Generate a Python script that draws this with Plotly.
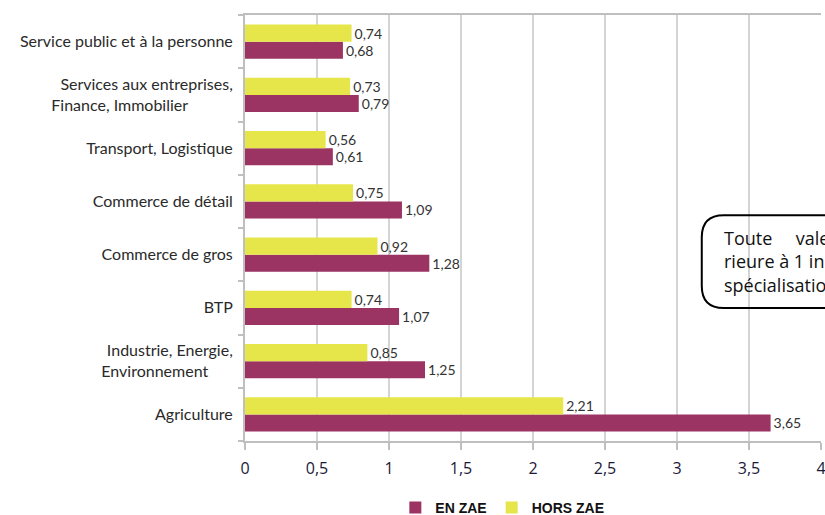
import plotly.graph_objects as go

categories = [
    "Agriculture",
    "Industrie, Energie,<br>Environnement" + "\u00a0" * 6,
    "BTP",
    "Commerce de gros",
    "Commerce de détail",
    "Transport, Logistique",
    "Services aux entreprises,<br>Finance, Immobilier" + "\u00a0" * 11,
    "Service public et à la personne",
]
en_zae = [3.65, 1.25, 1.07, 1.28, 1.09, 0.61, 0.79, 0.68]
hors_zae = [2.21, 0.85, 0.74, 0.92, 0.75, 0.56, 0.73, 0.74]
x_ticks = [0, 0.5, 1, 1.5, 2, 2.5, 3, 3.5, 4]
x_tick_labels = ["0", "0,5", "1", "1,5", "2", "2,5", "3", "3,5", "4"]

MAROON = "#9B3363"
YELLOW = "#E6E64A"

def fmt(v):
    return f"{v:.2f}".replace(".", ",")

fig = go.Figure()
fig.add_trace(go.Bar(
    y=categories, x=en_zae, orientation="h", name="EN ZAE",
    marker=dict(color=MAROON, line=dict(width=0)),
    text=[fmt(v) for v in en_zae], textposition="outside",
    textfont=dict(family="Lato", size=14, color="#333333"),
    cliponaxis=False,
))
fig.add_trace(go.Bar(
    y=categories, x=hors_zae, orientation="h", name="HORS ZAE",
    marker=dict(color=YELLOW, line=dict(width=0)),
    text=[fmt(v) for v in hors_zae], textposition="outside",
    textfont=dict(family="Lato", size=14, color="#333333"),
    cliponaxis=False,
))

fig.update_layout(
    width=825, height=515,
    margin=dict(l=245, r=4, t=15, b=74, autoexpand=False),
    paper_bgcolor="white", plot_bgcolor="white",
    barmode="group", bargap=0.36, bargroupgap=0,
    separators=", ",
    font=dict(family="Lato", color="#222222"),
    showlegend=True,
    legend=dict(
        orientation="h", x=0.261, xanchor="left", y=-0.157, yanchor="middle",
        font=dict(family="Liberation Sans", size=14, color="#111111", weight="bold"),
        traceorder="normal", itemwidth=30,
    ),
    xaxis=dict(
        range=[0, 4], tickvals=x_ticks, ticktext=x_tick_labels,
        showgrid=True, gridcolor="#D4D4D4", gridwidth=2,
        showline=True, linecolor="#BFBFBF", linewidth=2, mirror=True,
        ticks="outside", ticklen=7, tickcolor="#BFBFBF", tickwidth=2,
        ticklabelstandoff=5, ticklabeloverflow="allow", automargin=False,
        tickfont=dict(family="Open Sans", size=16, color="#1a1a3a"),
        zeroline=False, fixedrange=True,
    ),
    yaxis=dict(
        showgrid=False, showline=True, linecolor="#BFBFBF", linewidth=2,
        ticks="outside", ticklen=5, tickcolor="#BFBFBF", tickwidth=2,
        tickson="boundaries", ticklabelstandoff=7, automargin=False,
        tickfont=dict(family="Lato", size=16, color="#2a2a2a"),
        fixedrange=True,
    ),
)

# rounded callout box (partly outside the figure, as in the reference)
x0, x1 = 0.793, 1.08
y0, y1 = 0.312, 0.530
rx, ry = 22 / 576, 22 / 426
path = (
    f"M {x0 + rx} {y1} L {x1} {y1} L {x1} {y0} L {x0 + rx} {y0} "
    f"Q {x0} {y0} {x0} {y0 + ry} L {x0} {y1 - ry} Q {x0} {y1} {x0 + rx} {y1} Z"
)
fig.add_shape(type="path", path=path, xref="paper", yref="paper",
              line=dict(color="black", width=2), fillcolor="rgba(0,0,0,0)")
fig.add_annotation(
    xref="paper", yref="paper", x=0.828, y=0.421, xanchor="left", yanchor="middle",
    text="Toute" + "\u00a0" * 5 + "valeur supé-<br>rieure à 1 indique une<br>spécialisation",
    align="left", showarrow=False,
    font=dict(family="Open Sans", size=18, color="#111111"),
)

fig.write_html(
    "out.html",
    config={"displayModeBar": False},
    post_script="document.body.style.margin='0';document.body.style.overflow='hidden';",
)
